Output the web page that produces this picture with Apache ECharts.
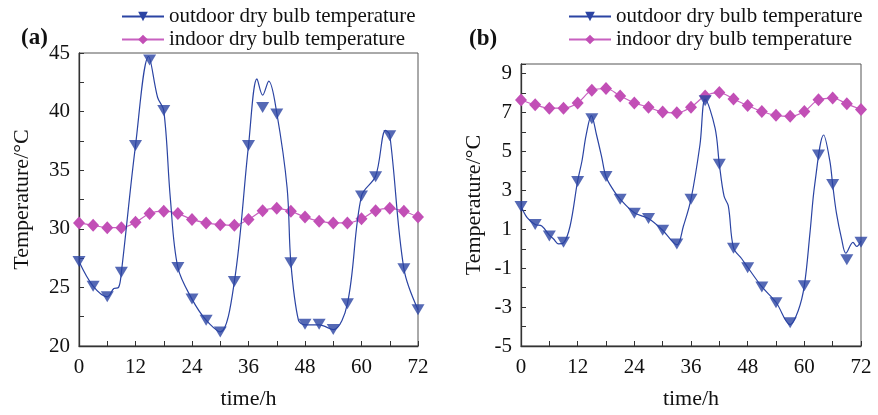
<!DOCTYPE html>
<html>
<head>
<meta charset="utf-8">
<script src="https://cdn.jsdelivr.net/npm/echarts@6/dist/echarts.min.js"></script>
<style>html,body{margin:0;padding:0;background:#fff}#c{width:878px;height:415px}</style>
</head>
<body>
<div id="c"></div>
<script>
// ---------- DATA ----------
const hours = [0,3,6,9,12,15,18,21,24,27,30,33,36,39,42,45,48,51,54,57,60,63,66,69,72];
const xTickLabels = [0,12,24,36,48,60,72];
const yTickLabelsA = [20,25,30,35,40,45];
const yTickLabelsB = [-5,-3,-1,1,3,5,7,9];

// panel (a) markers
const outdoorA = [27.2,25.1,24.2,26.3,37.1,44.4,40.1,26.7,24.0,22.2,21.2,25.5,37.1,40.35,39.8,27.1,21.85,21.85,21.4,23.6,32.8,34.45,37.95,26.6,23.1];
const indoorA  = [30.5,30.3,30.1,30.1,30.55,31.3,31.5,31.3,30.8,30.5,30.35,30.3,30.8,31.55,31.75,31.5,31.0,30.65,30.5,30.5,30.85,31.55,31.75,31.5,31.0];
// panel (a) outdoor curve
const outdoorACurve = [[0,27.2],[3,25.1],[6,24.2],[7.4,24.9],[8.4,25.0],[9,26.3],[12,37.1],[14.8,44.7],[16.7,41.2],[18,40.1],[19.4,32.6],[21,26.7],[24,24.0],[27,22.2],[30,21.2],[33,25.5],[36,37.1],[37.8,42.8],[39,41.4],[40.3,42.6],[42,39.9],[44.2,33.5],[45,27.1],[46.6,22.2],[48,21.8],[51,21.8],[54,21.4],[57,23.6],[60,32.8],[63,34.5],[65.1,38.4],[66,38.0],[69,26.6],[72,23.1]];

// panel (b) markers
const outdoorB = [2.17,1.25,0.66,0.33,3.46,6.69,3.71,2.54,1.83,1.55,0.95,0.25,2.54,7.61,4.35,0.03,-0.98,-1.96,-2.77,-3.81,-1.9,4.82,3.31,-0.56,0.33];
const indoorB  = [7.65,7.4,7.23,7.23,7.5,8.15,8.24,7.86,7.5,7.28,7.03,6.99,7.28,7.86,8.03,7.7,7.36,7.06,6.86,6.81,7.06,7.66,7.75,7.45,7.16];
// panel (b) outdoor curve
const outdoorBCurve = [[0,2.2],[1.3,1.6],[3,1.25],[4.4,1.17],[6,0.7],[6.9,0.5],[7.95,0.25],[9,0.3],[10.4,1.17],[12,3.5],[12.9,4.5],[13.8,5.85],[14.9,6.85],[16.0,5.85],[17.1,4.7],[18,3.7],[19.6,3.0],[21,2.55],[24,1.85],[27,1.55],[30,0.95],[33,0.2],[34.4,1.17],[36,2.55],[37.9,5.35],[39,7.7],[41.1,6.2],[42,4.35],[43,2.7],[43.9,2.2],[45,0.05],[46.7,-0.5],[48,-0.95],[51,-1.95],[54,-2.75],[57,-3.9],[58.7,-3.19],[60,-1.9],[61.2,0.83],[62.2,3.3],[64.1,5.85],[65.4,4.52],[66,3.3],[66.8,1.83],[67.9,0.5],[68.8,-0.23],[70.3,0.33],[71.1,0.12],[72,0.4]];

const nameOut = 'outdoor dry bulb temperature';
const nameIn = 'indoor dry bulb temperature';

// ---------- STYLE ----------
const FONT = '"Liberation Serif","Times New Roman",serif';
const BLUE = '#2b44a3';
const PINK = '#c24fb6';
const PINK_LINE = '#c860c0';
const TRI = 'path://M0,0 L10,0 L5,9 Z';

function pairs(xs, ys){ return xs.map((x,i)=>[x, ys[i]]); }

function xAx(gi, gap){
  return {
    type:'value', gridIndex:gi, min:0, max:72, interval:6,
    axisLine:{onZero:false, lineStyle:{color:'#333', width:1.3}},
    axisTick:{inside:true, length:5, lineStyle:{color:'#333', width:1}},
    axisLabel:{formatter:v=> xTickLabels.indexOf(v)>=0 ? String(v) : '', fontFamily:FONT, fontSize:21, color:'#111', margin:11},
    splitLine:{show:false},
    name:'time/h', nameLocation:'middle', nameGap:gap,
    nameTextStyle:{fontFamily:FONT, fontSize:22, color:'#111'}
  };
}
function yAx(gi, min, max, interval, labels, gap){
  return {
    type:'value', gridIndex:gi, min:min, max:max, interval:interval,
    axisLine:{show:true, onZero:false, lineStyle:{color:'#333', width:1.3}},
    axisTick:{inside:true, length:5, lineStyle:{color:'#333', width:1}},
    axisLabel:{formatter:v=> labels.indexOf(v)>=0 ? String(v) : '', fontFamily:FONT, fontSize:21, color:'#111', margin:9, showMaxLabel:true},
    splitLine:{show:false},
    name:'Temperature/\u00B0C', nameLocation:'middle', nameGap:gap,
    nameTextStyle:{fontFamily:FONT, fontSize:22, color:'#111'}
  };
}

function outLine(gi, curve){
  return {name:nameOut, type:'line', xAxisIndex:gi, yAxisIndex:gi, data:curve, smooth:0.35,
    showSymbol:false, symbol:TRI, symbolSize:[13,11], z:3,
    lineStyle:{color:BLUE, width:1.2}, itemStyle:{color:BLUE}};
}
function outMarks(gi, vals){
  return {name:nameOut, type:'scatter', xAxisIndex:gi, yAxisIndex:gi, data:pairs(hours, vals),
    symbol:TRI, symbolSize:[13,11], z:4, itemStyle:{color:BLUE}};
}
function inLine(gi, vals){
  return {name:nameIn, type:'line', xAxisIndex:gi, yAxisIndex:gi, data:pairs(hours, vals), smooth:0.35,
    symbol:'diamond', symbolSize:[12,13], showSymbol:true, z:2,
    lineStyle:{color:PINK_LINE, width:1.2}, itemStyle:{color:PINK}};
}
function legend(left){
  return {orient:'vertical', left:left, top:6, padding:0, itemWidth:42, itemHeight:12, itemGap:2,
    data:[nameOut, nameIn],
    textStyle:{fontFamily:FONT, fontSize:21, color:'#111', lineHeight:21}};
}

const chart = echarts.init(document.getElementById('c'), null, {renderer:'canvas'});
chart.setOption({
  animation:false,
  backgroundColor:'#fff',
  title:[
    {text:'(a)', left:16, top:22, textStyle:{fontFamily:FONT, fontSize:23, fontWeight:'bold', color:'#111'}},
    {text:'(b)', left:464, top:23, textStyle:{fontFamily:FONT, fontSize:23, fontWeight:'bold', color:'#111'}}
  ],
  legend:[legend(121), legend(568)],
  grid:[
    {left:79, top:53, width:339, height:297, show:true, borderColor:'#555', borderWidth:1},
    {left:521, top:64, width:340, height:289, show:true, borderColor:'#555', borderWidth:1}
  ],
  xAxis:[xAx(0, 42), xAx(1, 42)],
  yAxis:[yAx(0, 20, 45, 2.5, yTickLabelsA, 46), yAx(1, -5, 9.5, 1, yTickLabelsB, 36)],
  series:[
    outLine(0, outdoorACurve), outMarks(0, outdoorA), inLine(0, indoorA),
    outLine(1, outdoorBCurve), outMarks(1, outdoorB), inLine(1, indoorB)
  ]
});
</script>
</body>
</html>
